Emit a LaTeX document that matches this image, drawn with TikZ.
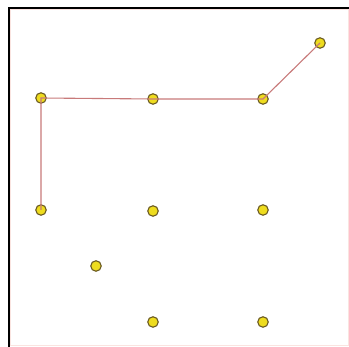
\documentclass[tikz,border=0pt]{standalone}
\begin{document}
\begin{tikzpicture}[x=1pt,y=-1pt,
  dot/.style={circle,draw=dotedge,fill=dotfill,line width=1.1pt,minimum size=10.5pt,inner sep=0pt},
  link/.style={draw=linkred,line width=1.1pt}]
\definecolor{dotfill}{HTML}{EEDC1E}
\definecolor{dotedge}{HTML}{6A5A22}
\definecolor{linkred}{HTML}{C87A7A}
\definecolor{pinkedge}{HTML}{FAE4E0}
\useasboundingbox (0,0) rectangle (349,347);
\fill[white] (0,0) rectangle (349,347);
\draw[pinkedge,line width=1pt] (10.5,9.5) rectangle (348,345.5);
\draw[black,line width=2pt] (9,347) -- (9,8) -- (349,8);
\node[dot] (A) at (41,98) {};
\node[dot] (B) at (153,99) {};
\node[dot] (C) at (263,99) {};
\node[dot] (D) at (320,43) {};
\node[dot] (E) at (41,210) {};
\node[dot] (F) at (153,211) {};
\node[dot] (G) at (263,210) {};
\node[dot] (H) at (96,266) {};
\node[dot] (I) at (153,322) {};
\node[dot] (J) at (263,322) {};
\draw[link] (E.center) -- (A.center) -- (B.center) -- (C.center) -- (D.center);
\end{tikzpicture}
\end{document}
